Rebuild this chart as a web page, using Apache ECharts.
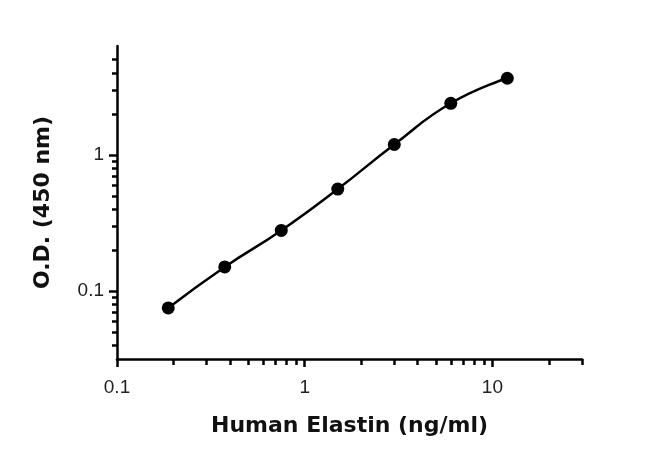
<!DOCTYPE html>
<html>
<head>
    <meta charset="utf-8"/>
    <title>ECharts</title>
    <script src="https://cdn.jsdelivr.net/npm/echarts@6/dist/echarts.min.js"></script>
</head>
<body style="margin:0">
<div id="main" style="width: 650px; height: 456px"></div>
<script type="text/javascript">
    // 标准曲线数据
    var concentration = [0.1875, 0.375, 0.75, 1.5, 3, 6, 12];
    var od450 = [0.075, 0.15, 0.278, 0.56, 1.19, 2.39, 3.65];

    var xMajor = [0.1, 1, 10];
    var xMinor = [0.2, 0.3, 0.4, 0.5, 0.6, 0.7, 0.8, 0.9, 2, 3, 4, 5, 6, 7, 8, 9, 20, 30];
    var yMajor = [0.1, 1];
    var yMinor = [0.04, 0.05, 0.06, 0.07, 0.08, 0.09, 0.2, 0.3, 0.4, 0.5, 0.6, 0.7, 0.8, 0.9, 2, 3, 4, 5];

    var xMin = 0.1, xMax = 30;
    var yMin = 0.0316, yMax = 6.3;

    var myChart = echarts.init(document.getElementById("main"));

    var lineStyle = {color: '#000', width: 2.5};
    var labelFont = {color: '#222', fontSize: 19, fontFamily: 'Arial, "Liberation Sans", sans-serif'};
    var nameFont = {color: '#111', fontSize: 22, fontWeight: 'bold', fontFamily: 'DejaVu Sans'};

    var option = {
        animation: false,
        grid: {left: 117, right: 68, top: 46, bottom: 97},
        xAxis: [
            {
                type: 'log', min: xMin, max: xMax, position: 'bottom',
                name: 'Human Elastin (ng/ml)', nameLocation: 'middle', nameGap: 56,
                nameTextStyle: nameFont,
                axisLine: {show: true, lineStyle: lineStyle},
                axisTick: {show: true, length: 8, lineStyle: lineStyle, customValues: xMajor},
                axisLabel: Object.assign({margin: 19, customValues: xMajor, formatter: function (v) { return String(v); }}, labelFont),
                splitLine: {show: false}
            },
            {
                type: 'log', min: xMin, max: xMax, position: 'bottom',
                axisLine: {show: false},
                axisTick: {show: true, length: 6, lineStyle: lineStyle, customValues: xMinor},
                axisLabel: {show: false},
                splitLine: {show: false}
            }
        ],
        yAxis: [
            {
                type: 'log', min: yMin, max: yMax, position: 'left',
                name: 'O.D. (450 nm)', nameLocation: 'middle', nameGap: 63,
                nameTextStyle: nameFont,
                axisLine: {show: true, lineStyle: lineStyle},
                axisTick: {show: true, length: 8, lineStyle: lineStyle, customValues: yMajor},
                axisLabel: Object.assign({margin: 13, customValues: yMajor, formatter: function (v) { return String(v); }}, labelFont),
                splitLine: {show: false}
            },
            {
                type: 'log', min: yMin, max: yMax, position: 'left',
                axisLine: {show: false},
                axisTick: {show: true, length: 5, lineStyle: lineStyle, customValues: yMinor},
                axisLabel: {show: false},
                splitLine: {show: false}
            }
        ],
        series: [
            {
                type: 'line',
                xAxisIndex: 0,
                yAxisIndex: 0,
                data: concentration.map(function (c, i) { return [c, od450[i]]; }),
                smooth: 0.5,
                symbol: 'circle',
                symbolSize: 13,
                itemStyle: {color: '#000'},
                lineStyle: {color: '#000', width: 2.5}
            }
        ]
    };

    myChart.setOption(option);
</script>
</body>
</html>
